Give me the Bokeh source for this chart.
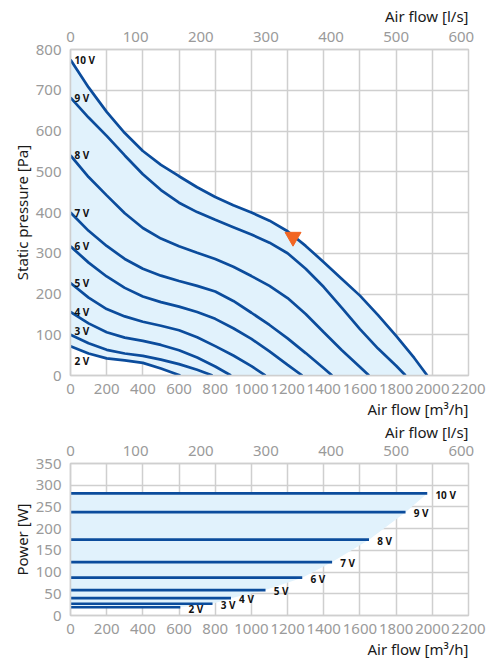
from bokeh.plotting import figure
from bokeh.models import Range1d, LinearAxis, FixedTicker, Title
from bokeh.layouts import column
from bokeh.embed import file_html
from bokeh.resources import INLINE
from bokeh.core.properties import value

# ---------------- data ----------------
voltages = ["2 V", "3 V", "4 V", "5 V", "6 V", "7 V", "8 V", "9 V", "10 V"]

flow_2v = [0, 100, 200, 300, 400, 500, 607]
pres_2v = [72, 54, 42, 37, 31, 17, 0]
flow_3v = [0, 100, 200, 300, 400, 500, 600, 700, 785]
pres_3v = [100, 79, 63, 54, 48, 39, 28, 14, 0]
flow_4v = [0, 100, 200, 300, 400, 500, 600, 700, 800, 887]
pres_4v = [156, 128, 106, 93, 85, 75, 62, 44, 22, 0]
flow_5v = [0, 100, 200, 300, 400, 500, 600, 700, 800, 900, 1000, 1078]
pres_5v = [227, 191, 163, 145, 132, 122, 111, 94, 72, 49, 23, 0]
flow_6v = [0, 100, 200, 300, 400, 500, 600, 700, 800, 900, 1000, 1100, 1200, 1281]
pres_6v = [317, 277, 243, 215, 194, 180, 169, 156, 139, 116, 90, 59, 26, 0]
flow_7v = [0, 100, 200, 300, 400, 500, 600, 700, 800, 900, 1000, 1100, 1200, 1300, 1400, 1446]
pres_7v = [400, 355, 318, 286, 262, 245, 232, 220, 206, 183, 154, 124, 91, 55, 18, 0]
flow_8v = [0, 100, 200, 300, 400, 500, 600, 700, 800, 900, 1000, 1100, 1200, 1300, 1400, 1500, 1600, 1650]
pres_8v = [540, 487, 442, 398, 362, 336, 317, 301, 286, 267, 244, 220, 190, 151, 106, 62, 21, 0]
flow_9v = [0, 100, 200, 300, 400, 500, 600, 700, 800, 900, 1000, 1100, 1200, 1300, 1400, 1500, 1600, 1700, 1800, 1852]
pres_9v = [682, 633, 588, 540, 494, 455, 424, 401, 382, 364, 346, 326, 300, 262, 217, 166, 114, 66, 24, 0]
flow_10v = [0, 100, 200, 300, 400, 500, 600, 700, 800, 900, 1000, 1100, 1200, 1300, 1400, 1500, 1600, 1700, 1800, 1900, 1972]
pres_10v = [775, 707, 647, 595, 551, 517, 489, 462, 438, 418, 400, 380, 354, 318, 278, 237, 196, 148, 97, 43, 0]

power_w = [19, 27, 40, 58.5, 87, 123, 174.5, 238, 281]

op_flow = [1230]
op_pressure = [340]

flow_ticks = list(range(0, 2201, 200))
ls_ticks = list(range(0, 601, 100))
pressure_ticks = list(range(0, 801, 100))
power_ticks = list(range(0, 351, 50))

flows = [flow_2v, flow_3v, flow_4v, flow_5v, flow_6v, flow_7v, flow_8v, flow_9v, flow_10v]
pressures = [pres_2v, pres_3v, pres_4v, pres_5v, pres_6v, pres_7v, pres_8v, pres_9v, pres_10v]

# ---------------- style ----------------
LINE = "#0b4c9c"
FILL = "#e1f2fc"
GRID = "#cfcfcf"
TICK = "#9a9a9a"
TXT = "#1a1a1a"
FONT = "Noto Sans"
W = 489
MAX_FLOW = 2200
LS_MAX = MAX_FLOW / 3.6


def style_axis(ax, label=None):
    if label:
        ax.axis_label = label
        ax.axis_label_text_font = FONT
        ax.axis_label_text_font_size = "15px"
        ax.axis_label_text_font_style = "normal"
        ax.axis_label_text_color = TXT
        ax.axis_label_standoff = 1
    ax.major_label_text_font = FONT
    ax.major_label_text_font_size = "15px"
    ax.major_label_text_color = TICK
    ax.major_label_standoff = 3
    ax.major_tick_line_color = None
    ax.minor_tick_line_color = None
    ax.axis_line_color = GRID
    ax.axis_line_width = 1.5


def side_title(text, standoff):
    return Title(text=text, align="right", text_font=FONT, text_font_size="15px",
                 text_font_style="normal", text_color=TXT, standoff=standoff, offset=0)


def make_fig(height, ymax, yticks, ylabel, top_border, bottom_border, top_standoff):
    p = figure(width=W, height=height, output_backend="svg", toolbar_location=None,
               x_range=Range1d(0, MAX_FLOW), y_range=Range1d(0, ymax),
               min_border_left=70, min_border_right=21,
               min_border_top=top_border, min_border_bottom=bottom_border)
    p.extra_x_ranges = {"ls": Range1d(0, LS_MAX)}
    top = LinearAxis(x_range_name="ls", ticker=FixedTicker(ticks=ls_ticks))
    p.add_layout(top, "above")
    p.add_layout(side_title("Air flow [l/s]", top_standoff), "above")
    p.add_layout(side_title("Air flow [m³/h]", 0), "below")
    bottom = p.below[0]
    left = p.left[0]
    bottom.ticker = FixedTicker(ticks=flow_ticks)
    left.ticker = FixedTicker(ticks=yticks)
    p.xgrid.ticker = FixedTicker(ticks=flow_ticks)
    p.ygrid.ticker = FixedTicker(ticks=yticks)
    style_axis(top)
    style_axis(bottom)
    style_axis(left, ylabel)
    bottom.major_label_standoff = 2
    top.major_label_standoff = 2
    p.xgrid.grid_line_color = GRID
    p.ygrid.grid_line_color = GRID
    p.xgrid.grid_line_width = 1.5
    p.ygrid.grid_line_width = 1.5
    p.outline_line_color = GRID
    p.outline_line_width = 1.5
    p.background_fill_color = "white"
    p.border_fill_color = "white"
    return p


# ---------------- pressure chart ----------------
p1 = make_fig(418, 800, pressure_ticks, "Static pressure [Pa]", 49, 42, 6)

fill_x = flow_10v + [flow_2v[-1]] + flow_2v[::-1]
fill_y = pres_10v + [0] + pres_2v[::-1]
p1.patch(fill_x, fill_y, fill_color=FILL, line_color=None)

for fx, py in zip(flows, pressures):
    p1.line(fx, py, line_color=LINE, line_width=2.7)

lab_x = [22] * len(voltages)
lab_y = [py[0] for py in pressures]
lab_y[0] = pres_2v[0] * 0.5
lab_y[1] = pres_3v[0] + 9
p1.text(lab_x, lab_y, text=voltages, text_font=value(FONT), text_font_size="10px",
        text_font_style="bold", text_color="#111111", text_baseline="middle", text_align="left")

p1.scatter(op_flow, op_pressure, marker="inverted_triangle", size=16,
           fill_color="#f26522", line_color="#f26522")

# ---------------- power chart ----------------
p2 = make_fig(240, 350, power_ticks, "Power [W]", 45, 40, 2)

ends = [fx[-1] for fx in flows]
pf_x = [0] + ends[::-1] + [0]
pf_y = [power_w[-1]] + power_w[::-1] + [power_w[0]]
p2.patch(pf_x, pf_y, fill_color=FILL, line_color=None)

for e, pw in zip(ends, power_w):
    p2.line([0, e], [pw, pw], line_color=LINE, line_width=2.7)

p2.text([e + 45 for e in ends], [pw - 3 for pw in power_w], text=voltages,
        text_font=value(FONT), text_font_size="10px", text_font_style="bold",
        text_color="#111111", text_baseline="middle", text_align="left")

layout = column(p1, p2, spacing=0)
open("out.html", "w").write(file_html(layout, INLINE))
